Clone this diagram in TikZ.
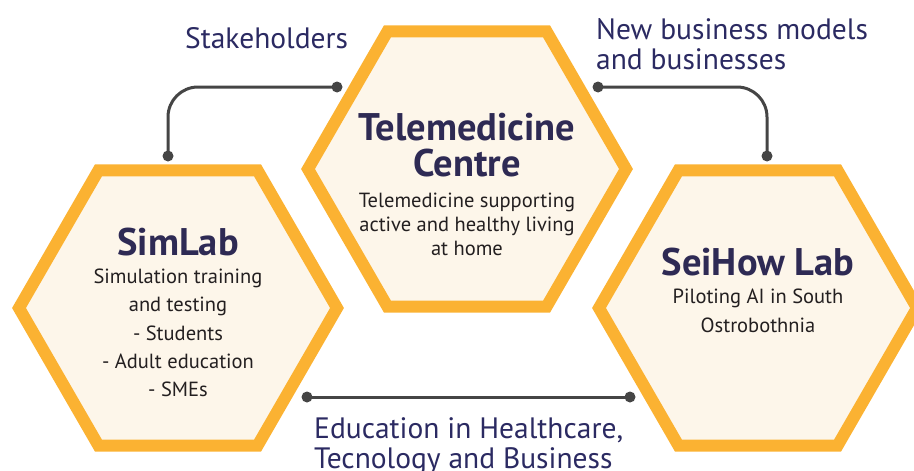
\documentclass[tikz,border=0pt]{standalone}
\usepackage{fontspec}
\setmainfont{PT Sans}
\usetikzlibrary{shapes.geometric}
\definecolor{hexline}{HTML}{FBB232}
\definecolor{hexfill}{HTML}{FDF6EA}
\definecolor{titlecol}{HTML}{2E2A54}
\definecolor{labelcol}{HTML}{2B2A62}
\definecolor{subcol}{HTML}{231F20}
\definecolor{conn}{HTML}{454545}
\tikzset{
  hexa/.style={regular polygon, regular polygon sides=6, draw=hexline, fill=hexfill,
    line width=12pt, minimum size=318pt, inner sep=0pt, outer sep=0pt},
  dotn/.style={circle, fill=conn, inner sep=0pt, minimum size=11pt},
  conline/.style={draw=conn, line width=3pt},
  titletxt/.style={text=titlecol, font=\bfseries\fontsize{38.5}{36}\selectfont, align=center, inner sep=0pt},
  subtxt/.style={text=subcol, align=center, inner sep=0pt},
  labeltxt/.style={text=labelcol, font=\fontsize{29.5}{30}\selectfont, align=left, inner sep=0pt}
}
\begin{document}
\begin{tikzpicture}[x=1pt,y=-1pt]
\useasboundingbox (0,0) rectangle (914,471);
\node[hexa] (tele) at (467,169) {};
\node[hexa] (sim) at (178,308) {};
\node[hexa] (sei) at (758,308) {};
% connectors
\node[dotn] (d1) at (337,87) {};
\node[dotn] (d2) at (168,156) {};
\node[dotn] (d3) at (598,87) {};
\node[dotn] (d4) at (767,156) {};
\node[dotn] (d5) at (307,397) {};
\node[dotn] (d6) at (630,397) {};
\draw[conline, rounded corners=30pt] (d1.center) -| (d2.center);
\draw[conline, rounded corners=30pt] (d3.center) -| (d4.center);
\draw[conline] (d5.center) -- (d6.center);
% titles
\node[titletxt] (tt) at (467,145) {Telemedicine\\Centre};
\node[subtxt, font=\fontsize{20.5}{24}\selectfont] (ts) at (467,224) {Telemedicine supporting\\active and healthy living\\at home};
\node[titletxt] (st) at (178,242) {SimLab};
\node[subtxt, font=\fontsize{20.5}{28.4}\selectfont] (ss) at (178,333) {Simulation training\\and testing\\- Students\\- Adult education\\- SMEs};
\node[titletxt] (et) at (758,262) {SeiHow Lab};
\node[subtxt, font=\fontsize{20.5}{28.4}\selectfont] (es) at (758,311) {Piloting AI in South\\Ostrobothnia};
% labels
\node[labeltxt, anchor=west] (l1) at (185,38) {Stakeholders};
\node[labeltxt, anchor=west] (l2) at (596,44) {New business models\\and businesses};
\node[labeltxt, anchor=west] (l3) at (314,446) {Education in Healthcare,\\Tecnology and Business};
\end{tikzpicture}
\end{document}
